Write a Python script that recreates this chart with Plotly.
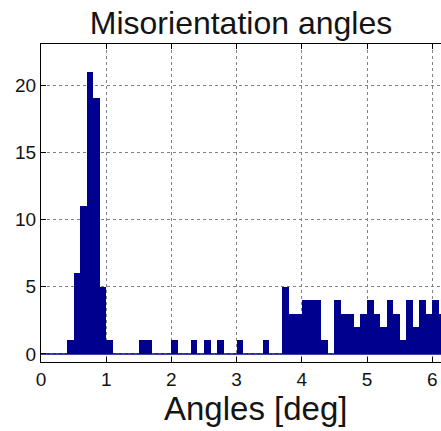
import plotly.graph_objects as go

# Histogram of misorientation angles, 0.1 deg bins starting at 0 deg
bin_width = 0.1
bin_start = 0.0
counts = [
    0, 0, 0, 0,                  # 0.0 - 0.4
    1, 6, 11, 21, 19, 5, 1,      # 0.4 - 1.1
    0, 0, 0, 0,                  # 1.1 - 1.5
    1, 1,                        # 1.5 - 1.7
    0, 0, 0,                     # 1.7 - 2.0
    1, 0, 0, 1, 0, 1, 0, 1,      # 2.0 - 2.8
    0, 0, 1, 0, 0, 0, 1,         # 2.8 - 3.5
    0, 0,                        # 3.5 - 3.7
    5, 3, 3, 4, 4, 4, 1, 0,      # 3.7 - 4.5
    4, 3, 3, 2, 3, 4, 3, 2,      # 4.5 - 5.3
    4, 3, 1, 4, 2, 4, 3, 4, 3,   # 5.3 - 6.2
]
bin_centers = [bin_start + bin_width * (i + 0.5) for i in range(len(counts))]
bin_edges = [bin_start, bin_start + bin_width * len(counts)]

x_ticks = [0, 1, 2, 3, 4, 5, 6]
y_ticks = [0, 5, 10, 15, 20]

bar_color = "rgb(0,0,143)"
font_family = "Liberation Sans, Arial, Helvetica, sans-serif"

fig = go.Figure()

# zero-count bins show up as a flat line along the baseline
fig.add_trace(go.Scatter(
    x=bin_edges, y=[0, 0], mode="lines",
    line=dict(color=bar_color, width=1.5),
    hoverinfo="skip", showlegend=False,
))

fig.add_trace(go.Bar(
    x=bin_centers, y=counts, width=bin_width,
    marker=dict(color=bar_color, line=dict(width=0)),
    showlegend=False,
))

W, H = 441, 431
m_l, m_r, m_t, m_b = 41, 0, 44, 69
px_per_unit = 65.2
plot_w = W - m_l - m_r
plot_h = H - m_t - m_b
x_max = plot_w / px_per_unit

grid_color = "rgb(130,130,130)"

fig.update_layout(
    width=W, height=H,
    margin=dict(l=m_l, r=m_r, t=m_t, b=m_b, pad=0),
    paper_bgcolor="white", plot_bgcolor="white",
    bargap=0,
    font=dict(family=font_family, color="black"),
    title=dict(
        text="Misorientation angles",
        x=0.5, xref="paper", xanchor="center",
        y=1 - 23 / H, yref="container", yanchor="middle",
        font=dict(size=32, family=font_family, color="rgb(20,20,20)"),
    ),
    xaxis=dict(
        range=[0, x_max],
        tickmode="array", tickvals=x_ticks,
        ticks="inside", ticklen=5, tickcolor="black",
        showline=True, linecolor="black", linewidth=1, mirror="ticks",
        showgrid=True, gridcolor=grid_color, griddash="dot", gridwidth=1,
        zeroline=False,
        tickfont=dict(size=19, family=font_family, color="rgb(20,20,20)"),
    ),
    yaxis=dict(
        range=[-0.6, 23.05],
        tickmode="array", tickvals=y_ticks,
        ticks="inside", ticklen=5, tickcolor="black",
        showline=True, linecolor="black", linewidth=1, mirror=False,
        showgrid=True, gridcolor=grid_color, griddash="dot", gridwidth=1,
        zeroline=False,
        tickfont=dict(size=19, family=font_family, color="rgb(20,20,20)"),
    ),
    annotations=[dict(
        text="Angles [deg]",
        x=(255 - m_l) / plot_w, xref="paper", xanchor="center",
        y=-46 / plot_h, yref="paper", yanchor="middle",
        showarrow=False,
        font=dict(size=33, family=font_family, color="rgb(20,20,20)"),
    )],
)

fig.write_html("out.html")
